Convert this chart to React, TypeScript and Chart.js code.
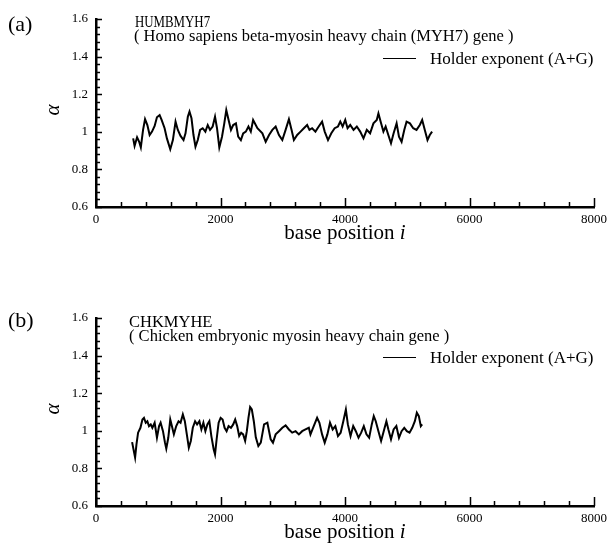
import React, { useEffect, useRef } from "react";
import { Chart, registerables } from "chart.js";

Chart.register(...registerables);

const X_MIN = 0;
const X_MAX = 8000;
const X_STEP = 400;
const X_MAJOR = 2000;
const Y_MIN = 0.6;
const Y_MAX = 1.6;
const Y_STEP = 0.04;
const Y_MAJOR = 0.2;

const posA = [597, 620, 660, 692, 720, 756, 788, 825, 862, 900, 942, 979, 1022, 1054, 1102, 1139, 1193, 1235, 1278, 1315, 1358, 1406, 1438, 1475, 1502, 1534, 1566, 1598, 1635, 1672, 1714, 1757, 1795, 1832, 1874, 1912, 1944, 1981, 2024, 2061, 2093, 2130, 2168, 2204, 2248, 2284, 2327, 2364, 2407, 2449, 2487, 2524, 2593, 2673, 2726, 2780, 2833, 2886, 2939, 2993, 3046, 3099, 3142, 3179, 3232, 3286, 3339, 3392, 3429, 3472, 3525, 3578, 3632, 3674, 3727, 3780, 3834, 3887, 3924, 3962, 4004, 4041, 4084, 4137, 4190, 4244, 4297, 4350, 4403, 4457, 4510, 4537, 4573, 4617, 4653, 4696, 4739, 4781, 4829, 4867, 4909, 4952, 4989, 5043, 5096, 5149, 5202, 5240, 5282, 5325, 5362, 5399];
const alphaA = [0.965, 0.925, 0.971, 0.948, 0.917, 1.010, 1.067, 1.036, 0.983, 1.001, 1.031, 1.077, 1.089, 1.063, 1.019, 0.965, 0.907, 0.956, 1.054, 1.010, 0.978, 0.956, 0.992, 1.080, 1.107, 1.072, 0.983, 0.921, 0.956, 1.010, 1.019, 1.001, 1.036, 1.010, 1.028, 1.080, 1.019, 0.917, 0.974, 1.045, 1.116, 1.063, 1.010, 1.036, 1.045, 0.974, 0.956, 0.992, 1.001, 1.028, 1.001, 1.063, 1.019, 0.992, 0.947, 0.983, 1.010, 1.028, 0.983, 0.956, 1.010, 1.067, 1.010, 0.956, 0.983, 1.001, 1.019, 1.036, 1.010, 1.019, 1.001, 1.028, 1.054, 1.001, 0.956, 0.992, 1.019, 1.028, 1.054, 1.028, 1.063, 1.019, 1.036, 1.010, 1.028, 1.001, 0.965, 1.010, 0.992, 1.045, 1.063, 1.098, 1.054, 1.001, 1.028, 0.983, 0.939, 0.992, 1.045, 0.974, 0.947, 1.010, 1.054, 1.045, 1.019, 1.010, 1.036, 1.063, 1.010, 0.956, 0.983, 1.001];

const posB = [580, 607, 628, 650, 676, 714, 746, 771, 799, 825, 851, 879, 905, 942, 979, 1013, 1038, 1076, 1108, 1129, 1161, 1193, 1219, 1251, 1289, 1326, 1358, 1395, 1427, 1459, 1491, 1523, 1555, 1592, 1624, 1661, 1693, 1725, 1757, 1789, 1821, 1853, 1890, 1912, 1938, 1970, 2002, 2034, 2066, 2098, 2130, 2168, 2204, 2236, 2268, 2300, 2332, 2364, 2396, 2423, 2449, 2476, 2503, 2535, 2567, 2608, 2647, 2700, 2753, 2806, 2843, 2886, 2939, 2993, 3046, 3099, 3152, 3206, 3259, 3312, 3365, 3419, 3445, 3498, 3552, 3589, 3632, 3674, 3717, 3759, 3802, 3845, 3887, 3930, 3973, 4014, 4046, 4089, 4132, 4174, 4217, 4260, 4302, 4345, 4388, 4430, 4462, 4494, 4537, 4580, 4622, 4665, 4697, 4739, 4781, 4825, 4867, 4909, 4952, 4994, 5037, 5080, 5122, 5154, 5186, 5218, 5240];
const alphaB = [0.940, 0.893, 0.858, 0.928, 0.990, 1.016, 1.060, 1.069, 1.043, 1.051, 1.025, 1.034, 1.016, 1.043, 0.963, 1.025, 1.043, 0.998, 0.937, 0.905, 0.963, 1.060, 1.025, 0.981, 1.025, 1.051, 1.043, 1.087, 1.051, 0.981, 0.910, 0.946, 1.016, 1.051, 1.034, 1.051, 1.007, 1.043, 0.998, 1.034, 1.051, 0.972, 0.902, 0.875, 0.955, 1.043, 1.069, 1.060, 1.016, 0.998, 1.025, 1.016, 1.034, 1.060, 1.025, 0.972, 0.990, 0.981, 0.946, 0.998, 1.069, 1.126, 1.114, 1.051, 0.965, 0.919, 0.937, 1.034, 1.043, 0.955, 0.937, 0.981, 0.998, 1.016, 1.029, 1.007, 0.990, 0.998, 0.981, 0.998, 1.007, 1.016, 0.981, 1.025, 1.069, 1.043, 0.981, 0.937, 0.981, 1.043, 1.007, 1.025, 0.972, 0.990, 1.051, 1.113, 1.034, 0.972, 1.025, 0.998, 0.963, 0.990, 1.025, 0.981, 0.963, 1.034, 1.078, 1.051, 0.998, 0.946, 0.998, 1.051, 1.007, 0.955, 1.007, 1.025, 0.963, 0.998, 1.016, 0.998, 0.990, 1.016, 1.051, 1.096, 1.078, 1.025, 1.034];

const legendLabel = "Holder exponent (A+G)";
const xAxisLabel = "base position ";
const xAxisItalic = "i";
const yAxisLabel = "α";

const SERIF = "'Liberation Serif', 'Times New Roman', serif";
const W = 612;
const H = 246;

type PanelProps = {
  top: number;
  pos: number[];
  vals: number[];
  tag: string;
  title: string;
  subtitle: string;
  tagY: number;
  titleX: number;
  titleY: number;
  titleScaleX: number;
  subX: number;
  subY: number;
};

function isMultiple(v: number, step: number) {
  const r = v / step;
  return Math.abs(r - Math.round(r)) < 1e-6;
}

function Panel(p: PanelProps) {
  const ref = useRef<HTMLCanvasElement | null>(null);
  useEffect(() => {
    if (!ref.current) return;
    const decor = {
      id: "decor",
      afterDraw(chart: any) {
        const ctx = chart.ctx as CanvasRenderingContext2D;
        const xs = chart.scales.x;
        const ys = chart.scales.y;
        const a = chart.chartArea;
        ctx.save();
        ctx.strokeStyle = "#000";
        ctx.lineWidth = 1.5;
        ctx.beginPath();
        xs.ticks.forEach((t: any) => {
          const px = Math.round(xs.getPixelForValue(t.value)) + 0.5;
          const len = isMultiple(t.value, X_MAJOR) ? 9 : 5;
          ctx.moveTo(px, a.bottom);
          ctx.lineTo(px, a.bottom - len);
        });
        ys.ticks.forEach((t: any) => {
          const py = Math.round(ys.getPixelForValue(t.value)) + 0.5;
          const len = isMultiple(t.value, Y_MAJOR) ? 6 : 4;
          ctx.moveTo(a.left, py);
          ctx.lineTo(a.left + len, py);
        });
        ctx.stroke();

        ctx.fillStyle = "#000";
        ctx.textBaseline = "alphabetic";
        ctx.textAlign = "left";
        // panel tag
        ctx.font = `22px ${SERIF}`;
        ctx.fillText(p.tag, 8, p.tagY);
        // title
        ctx.save();
        ctx.font = `16.5px ${SERIF}`;
        ctx.translate(p.titleX, p.titleY);
        ctx.scale(p.titleScaleX, 1);
        ctx.fillText(p.title, 0, 0);
        ctx.restore();
        ctx.font = `16.5px ${SERIF}`;
        ctx.fillText(p.subtitle, p.subX, p.subY);
        // legend
        ctx.lineWidth = 1.2;
        ctx.beginPath();
        ctx.moveTo(383, 58.5);
        ctx.lineTo(416, 58.5);
        ctx.stroke();
        ctx.font = `17px ${SERIF}`;
        ctx.fillText(legendLabel, 430, 64);
        // x axis title
        const cx = (a.left + a.right) / 2;
        ctx.font = `21px ${SERIF}`;
        const w1 = ctx.measureText(xAxisLabel).width;
        ctx.font = `italic 21px ${SERIF}`;
        const w2 = ctx.measureText(xAxisItalic).width;
        const sx = cx - (w1 + w2) / 2;
        ctx.font = `21px ${SERIF}`;
        ctx.fillText(xAxisLabel, sx, 239);
        ctx.font = `italic 21px ${SERIF}`;
        ctx.fillText(xAxisItalic, sx + w1, 239);
        // y axis title
        ctx.save();
        ctx.translate(53, 110);
        ctx.rotate(-Math.PI / 2);
        ctx.textAlign = "center";
        ctx.textBaseline = "middle";
        ctx.font = `italic 21px ${SERIF}`;
        ctx.fillText(yAxisLabel, 0, 0);
        ctx.restore();
        ctx.restore();
      },
    };

    const chart = new Chart(ref.current, {
      type: "line",
      data: {
        datasets: [
          {
            label: legendLabel,
            data: p.pos.map((x, i) => ({ x, y: p.vals[i] })),
            borderColor: "#000",
            borderWidth: 2,
            pointRadius: 0,
            tension: 0,
            fill: false,
          },
        ],
      },
      options: {
        responsive: false,
        animation: false,
        events: [],
        layout: { padding: { top: 19, right: 15, left: 0, bottom: 0 } },
        plugins: { legend: { display: false }, tooltip: { enabled: false }, title: { display: false } },
        scales: {
          x: {
            type: "linear",
            min: X_MIN,
            max: X_MAX,
            grid: { display: false, drawTicks: false },
            border: { display: true, color: "#000", width: 2.5 },
            afterFit: (s: any) => {
              s.height = 39;
            },
            ticks: {
              stepSize: X_STEP,
              autoSkip: false,
              maxRotation: 0,
              padding: 5,
              color: "#000",
              font: { family: SERIF, size: 13 },
              callback: (v: any) => (isMultiple(Number(v), X_MAJOR) ? String(Math.round(Number(v))) : ""),
            },
          },
          y: {
            type: "linear",
            min: Y_MIN,
            max: Y_MAX,
            grid: { display: false, drawTicks: false },
            border: { display: true, color: "#000", width: 2.5 },
            afterFit: (s: any) => {
              s.width = 96;
            },
            ticks: {
              stepSize: Y_STEP,
              autoSkip: false,
              padding: 8,
              color: "#000",
              font: { family: SERIF, size: 13 },
              callback: (v: any) => {
                const n = Number(v);
                if (!isMultiple(n, Y_MAJOR)) return "";
                return String(Math.round(n * 10) / 10);
              },
            },
          },
        },
      },
      plugins: [decor],
    } as any);
    return () => chart.destroy();
  }, []);
  return (
    <canvas
      ref={ref}
      width={W}
      height={H}
      style={{ position: "absolute", left: 0, top: p.top, width: W, height: H }}
    />
  );
}

export default function App() {
  return (
    <div style={{ position: "fixed", left: 0, top: 0, width: 612, height: 545, background: "#fff" }}>
      <Panel
        top={0}
        pos={posA}
        vals={alphaA}
        tag="(a)"
        title="HUMBMYH7"
        subtitle="( Homo sapiens beta-myosin heavy chain (MYH7) gene )"
        tagY={31}
        titleX={135}
        titleY={27}
        titleScaleX={0.78}
        subX={134}
        subY={41}
      />
      <Panel
        top={299}
        pos={posB}
        vals={alphaB}
        tag="(b)"
        title="CHKMYHE"
        subtitle="( Chicken embryonic myosin heavy chain gene )"
        tagY={28}
        titleX={129}
        titleY={28}
        titleScaleX={1}
        subX={129}
        subY={42}
      />
    </div>
  );
}
